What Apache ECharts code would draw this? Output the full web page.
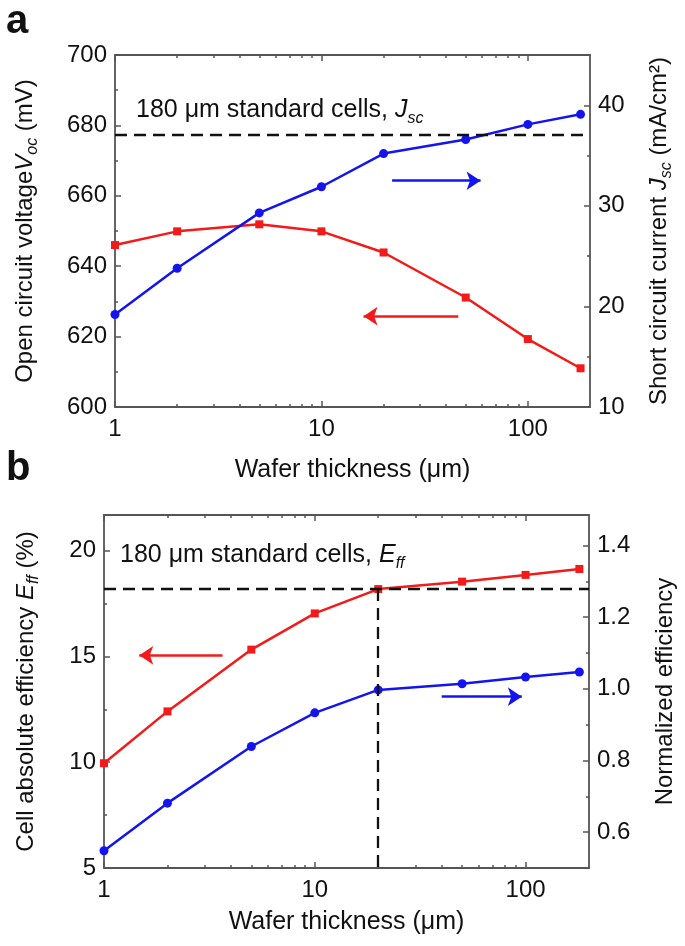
<!DOCTYPE html>
<html><head><meta charset="utf-8">
<script src="https://cdn.jsdelivr.net/npm/echarts@6/dist/echarts.min.js"></script>
<style>html,body{margin:0;padding:0;background:#fff}#c{width:685px;height:946px}</style>
</head><body><div id="c"></div>
<script>
// ---- data ----
const thickness = [1, 2, 5, 10, 20, 50, 100, 180];
const vocA  = [646.0, 649.9, 651.9, 649.9, 643.9, 631.1, 619.3, 611.0];
const jscA  = [19.2, 23.8, 29.3, 31.9, 35.2, 36.6, 38.1, 39.1];
const effB  = [9.95, 12.4, 15.32, 17.03, 18.18, 18.53, 18.85, 19.13];
const normB = [0.548, 0.681, 0.839, 0.933, 0.997, 1.014, 1.033, 1.047];
const jscRef = 37.1;
const effRef = 18.18;
const refThickness = 20;
// ---- ticks ----
const xMajorTicks = [1, 10, 100];
const xMinorTicks = [2, 3, 4, 5, 6, 7, 8, 9, 20, 30, 40, 50, 60, 70, 80, 90];
const vocTicks = [600, 620, 640, 660, 680, 700];
const vocMinor = [610, 630, 650, 670, 690];
const jscTicks = [10, 20, 30, 40];
const jscMinor = [15, 25, 35];
const effTicks = [5, 10, 15, 20];
const effMinor = [7.5, 12.5, 17.5];
const normTicks = [0.6, 0.8, 1.0, 1.2, 1.4];
const normMinor = [0.7, 0.9, 1.1, 1.3];

// ---- annotation placement (x0, x1, y in data units) ----
const arrowABlue = [22, 59, 32.5];
const arrowARed = [46, 16, 625.8];
const arrowBRed = [3.65, 1.47, 15.05];
const arrowBBlue = [40, 96, 0.978];

const FF = 'Liberation Sans, Arial, sans-serif';
const AX = '#555';
const RED = '#f31a1a';
const BLUE = '#1414f0';
const TXT = '#111';
const TITLE = 24;

const richName = {
  n: { fontSize: TITLE, fontFamily: FF, color: TXT, lineHeight: 32 },
  i: { fontSize: TITLE, fontFamily: FF, color: TXT, fontStyle: 'italic', lineHeight: 32 },
  s: { fontSize: 16, fontFamily: FF, color: TXT, fontStyle: 'italic', lineHeight: 17, verticalAlign: 'bottom' }
};

function xAxesFor(gi, gap) {
  const base = { type: 'log', logBase: 10, gridIndex: gi, min: 1, max: 200, splitLine: { show: false }, minorTick: { show: false } };
  return [
    Object.assign({}, base, {
      position: 'bottom',
      axisLine: { show: true, lineStyle: { color: AX, width: 1.8 } },
      axisTick: { show: true, inside: true, length: 6, customValues: xMajorTicks, lineStyle: { color: AX, width: 1.5 } },
      axisLabel: { show: true, customValues: xMajorTicks, formatter: v => String(Math.round(v)), fontSize: 24, color: TXT, fontFamily: FF, margin: 10 },
      name: 'Wafer thickness (μm)', nameLocation: 'middle', nameGap: gap,
      nameTextStyle: { fontSize: 25, fontFamily: FF, color: TXT }
    }),
    Object.assign({}, base, {
      position: 'bottom',
      axisLine: { show: false },
      axisTick: { show: true, inside: true, length: 3, customValues: xMinorTicks, lineStyle: { color: AX, width: 1.5 } },
      axisLabel: { show: false }
    }),
    Object.assign({}, base, {
      position: 'top',
      axisLine: { show: true, lineStyle: { color: AX, width: 1.8 } },
      axisTick: { show: true, inside: true, length: 6, customValues: xMajorTicks, lineStyle: { color: AX, width: 1.5 } },
      axisLabel: { show: false }
    }),
    Object.assign({}, base, {
      position: 'top',
      axisLine: { show: false },
      axisTick: { show: true, inside: true, length: 3, customValues: xMinorTicks, lineStyle: { color: AX, width: 1.5 } },
      axisLabel: { show: false }
    })
  ];
}

function yAxesFor(gi, pos, min, max, major, minor, fmt, name, gap) {
  const base = { type: 'value', gridIndex: gi, position: pos, min: min, max: max, splitLine: { show: false } };
  return [
    Object.assign({}, base, {
      axisLine: { show: true, lineStyle: { color: AX, width: 1.8 } },
      axisTick: { show: true, inside: true, length: 6, customValues: major, lineStyle: { color: AX, width: 1.5 } },
      axisLabel: { show: true, customValues: major, formatter: fmt, fontSize: 24, color: TXT, fontFamily: FF, margin: 8 },
      name: name, nameLocation: 'middle', nameGap: gap, nameRotate: 90,
      nameTextStyle: { fontSize: TITLE, fontFamily: FF, color: TXT, rich: richName }
    }),
    Object.assign({}, base, {
      axisLine: { show: false },
      axisTick: { show: true, inside: true, length: 3, customValues: minor, lineStyle: { color: AX, width: 1.5 } },
      axisLabel: { show: false }
    })
  ];
}

const xAxis = [].concat(xAxesFor(0, 51), xAxesFor(1, 42));
const yAxis = [].concat(
  yAxesFor(0, 'left', 600, 700, vocTicks, vocMinor, v => String(v), '{n|Open circuit voltage}{i|V}{s|oc}{n| (mV)}', 74),
  yAxesFor(0, 'right', 10, 45, jscTicks, jscMinor, v => String(v), '{n|Short circuit current }{i|J}{s|sc}{n| (mA/cm²)}', 53),
  yAxesFor(1, 'left', 5, 21.68, effTicks, effMinor, v => String(v), '{n|Cell absolute efficiency }{i|E}{s|ff}{n| (%)}', 62),
  yAxesFor(1, 'right', 0.5, 1.485, normTicks, normMinor, v => v.toFixed(1), '{n|Normalized efficiency}', 60)
);

function pairs(xs, ys) { return xs.map((x, i) => [x, ys[i]]); }

const dashStyle = { color: '#111', width: 2.3, type: [12, 7] };
const arrowLine = (a, color) => ({
  silent: true, symbol: ['none', 'arrow'], symbolSize: [14, 14], label: { show: false },
  lineStyle: { color: color, width: 2.5, type: 'solid' },
  data: [[{ coord: [a[0], a[2]] }, { coord: [a[1], a[2]] }]]
});

const series = [
  {
    type: 'line', xAxisIndex: 0, yAxisIndex: 0, data: pairs(thickness, vocA),
    symbol: 'rect', symbolSize: 8, lineStyle: { color: RED, width: 2.5 }, itemStyle: { color: RED },
    markLine: arrowLine(arrowARed, RED)
  },
  {
    type: 'line', xAxisIndex: 0, yAxisIndex: 2, data: pairs(thickness, jscA),
    symbol: 'circle', symbolSize: 9, lineStyle: { color: BLUE, width: 2.5 }, itemStyle: { color: BLUE },
    markLine: {
      silent: true, symbol: 'none', label: { show: false }, lineStyle: dashStyle,
      data: [[{ coord: [1, jscRef] }, { coord: [200, jscRef] }]]
    }
  },
  {
    type: 'line', xAxisIndex: 0, yAxisIndex: 2, data: [], markLine: arrowLine(arrowABlue, BLUE)
  },
  {
    type: 'line', xAxisIndex: 4, yAxisIndex: 4, data: pairs(thickness, effB),
    symbol: 'rect', symbolSize: 8, lineStyle: { color: RED, width: 2.5 }, itemStyle: { color: RED },
    markLine: {
      silent: true, symbol: 'none', label: { show: false }, lineStyle: dashStyle,
      data: [
        [{ coord: [1, effRef] }, { coord: [200, effRef] }],
        [{ coord: [refThickness, effRef] }, { coord: [refThickness, 5] }]
      ]
    }
  },
  {
    type: 'line', xAxisIndex: 4, yAxisIndex: 4, data: [], markLine: arrowLine(arrowBRed, RED)
  },
  {
    type: 'line', xAxisIndex: 4, yAxisIndex: 6, data: pairs(thickness, normB),
    symbol: 'circle', symbolSize: 9, lineStyle: { color: BLUE, width: 2.5 }, itemStyle: { color: BLUE },
    markLine: arrowLine(arrowBBlue, BLUE)
  }
];

const annoRich = {
  n: { fontSize: 25, fontFamily: FF, fill: TXT, lineHeight: 32 },
  i: { fontSize: 25, fontFamily: FF, fill: TXT, fontStyle: 'italic', lineHeight: 32 },
  s: { fontSize: 16, fontFamily: FF, fill: TXT, fontStyle: 'italic', lineHeight: 17, verticalAlign: 'bottom' }
};

const option = {
  animation: false,
  backgroundColor: '#fff',
  grid: [
    { left: 115, right: 95, top: 55, height: 352 },
    { left: 104, right: 95, top: 515, height: 353 }
  ],
  xAxis: xAxis,
  yAxis: yAxis,
  series: series,
  graphic: [
    { type: 'text', left: 6, top: 2, style: { text: 'a', font: 'bold 40px Liberation Sans, Arial, sans-serif', fill: '#111' } },
    { type: 'text', left: 6, top: 449, style: { text: 'b', font: 'bold 40px Liberation Sans, Arial, sans-serif', fill: '#111' } },
    { type: 'text', left: 136, top: 98, style: { text: '{n|180 μm standard cells, }{i|J}{s|sc}', rich: annoRich } },
    { type: 'text', left: 120, top: 543, style: { text: '{n|180 μm standard cells, }{i|E}{s|ff}', rich: annoRich } }
  ]
};

const chart = echarts.init(document.getElementById('c'), null, { renderer: 'canvas' });
chart.setOption(option);
</script>
</body></html>
